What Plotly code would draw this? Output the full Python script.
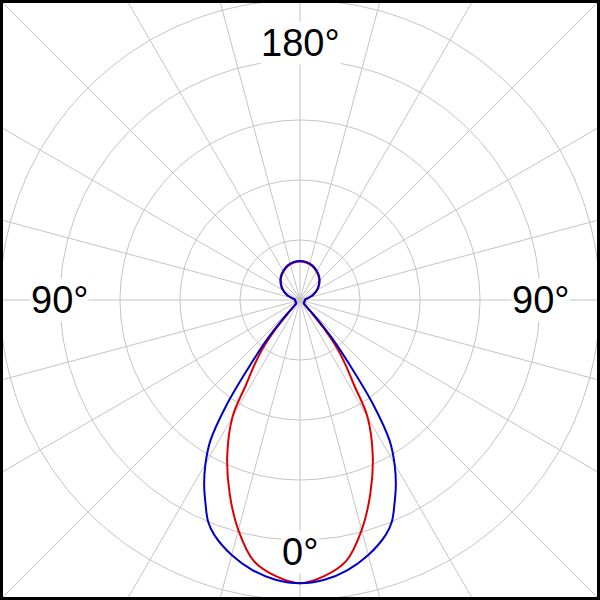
import numpy as np
import plotly.graph_objects as go

# Polar intensity data (angle from nadir, degrees)
red_angles = [0, 5, 10, 15, 20, 25, 30, 32.5, 35, 37.5, 40, 42.5, 45, 50, 60, 70, 80, 90,
              100, 110, 120, 130, 140, 150, 160, 170, 180]
red_values = [472, 462, 442, 397, 343, 287, 225, 167, 133, 102, 62, 25, 12, 8, 8, 8, 8, 8,
              11, 22, 32, 41, 49, 55, 60, 63, 64]

blue_angles = [0, 5, 10, 15, 20, 22.5, 25, 27.5, 30, 32.5, 35, 37.5, 40, 42.5, 45, 50, 60, 70, 80, 90,
               100, 110, 120, 130, 140, 150, 160, 170, 180]
blue_values = [472, 468, 457, 440, 417, 400, 373, 346, 315, 278, 213, 135, 83, 37, 13, 8, 8, 8, 8, 8,
               11, 22, 33, 42, 50, 56, 61, 64, 65]

grid_radii = [100, 200, 300, 400, 500]
spoke_step = 15
label_texts = ["180°", "90°", "90°", "0°"]

RMAX = 500


def to_xy(angles, values):
    a = np.array(angles, dtype=float)
    v = np.array(values, dtype=float)
    # right half then mirrored left half (symmetric plane)
    a_full = np.concatenate([a, a[::-1][1:]])
    v_full = np.concatenate([v, v[::-1][1:]])
    sign = np.concatenate([np.ones(len(a)), -np.ones(len(a) - 1)])
    th = np.radians(a_full)
    x = sign * v_full * np.sin(th)
    y = -v_full * np.cos(th)
    return x, y


fig = go.Figure()

# spokes
sx, sy = [], []
for ang in range(0, 360, spoke_step):
    t = np.radians(ang)
    sx += [0, 900 * np.sin(t), None]
    sy += [0, 900 * np.cos(t), None]
fig.add_trace(go.Scatter(x=sx, y=sy, mode="lines",
                         line=dict(color="#c4c4c4", width=1),
                         hoverinfo="skip", showlegend=False))

# grid circles
tt = np.linspace(0, 2 * np.pi, 361)
cx, cy = [], []
for r in grid_radii:
    cx += list(r * np.cos(tt)) + [None]
    cy += list(r * np.sin(tt)) + [None]
fig.add_trace(go.Scatter(x=cx, y=cy, mode="lines",
                         line=dict(color="#c4c4c4", width=1),
                         hoverinfo="skip", showlegend=False))

for angs, vals, color in [(red_angles, red_values, "rgb(220,0,0)"),
                          (blue_angles, blue_values, "rgb(0,0,200)")]:
    x, y = to_xy(angs, vals)
    fig.add_trace(go.Scatter(x=x, y=y, mode="lines",
                             line=dict(color=color, width=2, shape="spline", smoothing=1.0),
                             showlegend=False))

label_pos = [(0, 428), (-401, 0), (401, 0), (0, -420)]
for txt, (lx, ly) in zip(label_texts, label_pos):
    fig.add_annotation(x=lx, y=ly, text=txt, showarrow=False,
                       xanchor="center", yanchor="middle",
                       font=dict(family="Liberation Sans, Arial", size=38, color="black"),
                       bgcolor="white", borderpad=0)

fig.add_shape(type="rect", xref="paper", yref="paper",
              x0=0.0025, y0=0.0025, x1=0.9975, y1=0.9975,
              line=dict(color="black", width=3))

fig.update_xaxes(range=[-RMAX, RMAX], visible=False, showgrid=False, zeroline=False)
fig.update_yaxes(range=[-RMAX, RMAX], visible=False, showgrid=False, zeroline=False)
fig.update_layout(width=600, height=600, margin=dict(l=0, r=0, t=0, b=0),
                  paper_bgcolor="white", plot_bgcolor="white")

fig.write_html("out.html", config={"displayModeBar": False},
               post_script="document.body.style.margin='0';document.body.style.padding='0';")
